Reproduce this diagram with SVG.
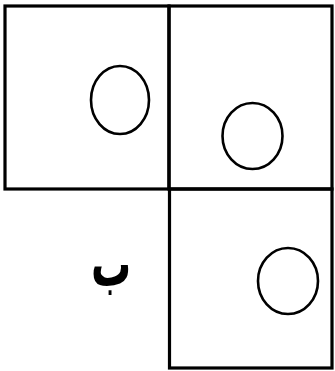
<svg xmlns="http://www.w3.org/2000/svg" width="335" height="371" viewBox="0 0 335 371">
<style>
.sq{fill:none;stroke:#000;stroke-width:3.2;stroke-linecap:square}
.c{fill:none;stroke:#000;stroke-width:2.6}
.t{font-family:"DejaVu Sans",sans-serif;font-weight:bold;font-size:40px;fill:#000}
</style>
<rect width="335" height="371" fill="#fff"/>
<g id="square-top-left">
<rect class="sq" x="5" y="6" width="164" height="183"/>
<ellipse class="c" cx="120" cy="100" rx="29" ry="34"/>
</g>
<g id="square-top-right">
<rect class="sq" x="169" y="6" width="163" height="183"/>
<ellipse class="c" cx="252.5" cy="136" rx="30" ry="33"/>
</g>
<g id="square-bottom">
<rect class="sq" x="169.5" y="189" width="162.5" height="179"/>
<ellipse class="c" cx="288" cy="281" rx="30" ry="33"/>
</g>
<g id="label">
<text class="t" transform="translate(111,286) scale(1,1.6)" x="0" y="0" text-anchor="middle" direction="rtl">ب</text>
</g>
</svg>
